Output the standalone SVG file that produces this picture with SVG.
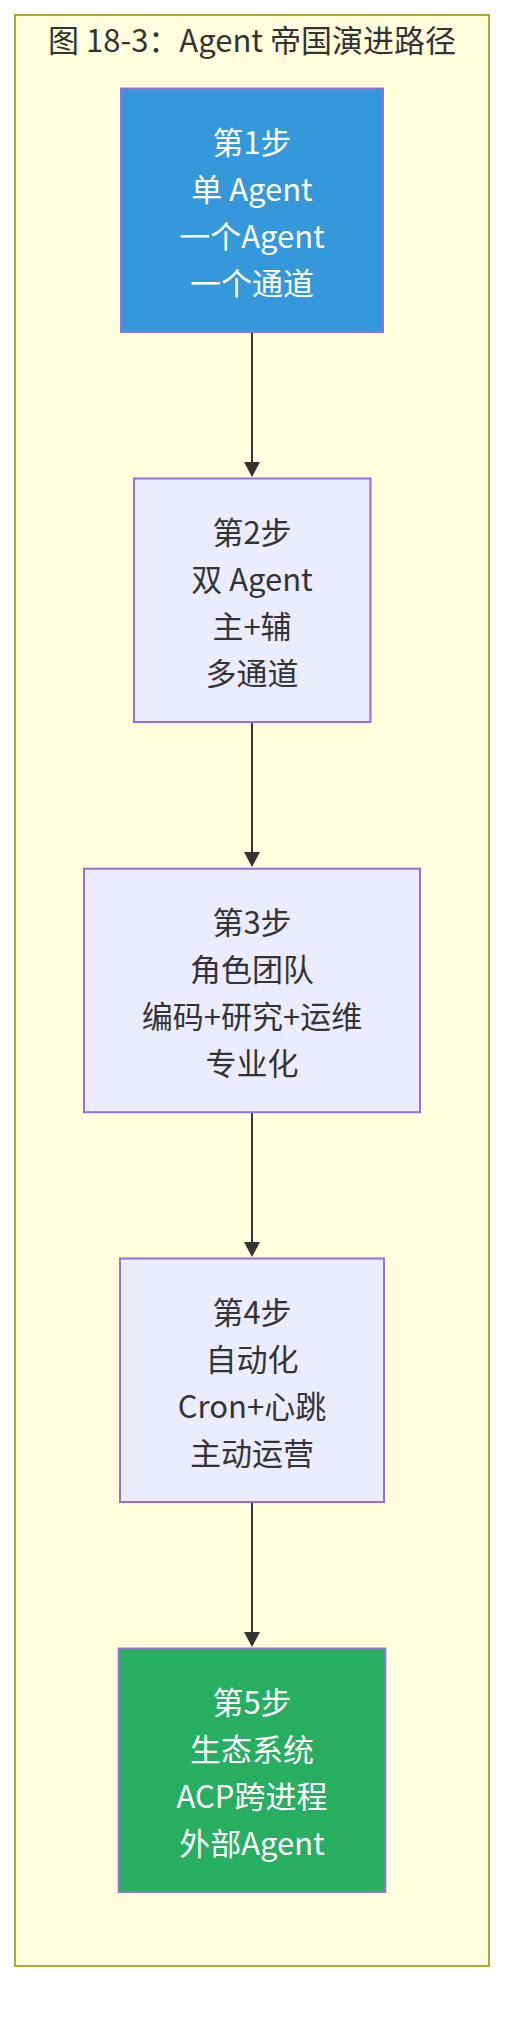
<svg xmlns="http://www.w3.org/2000/svg" width="520" height="2042" viewBox="0 0 520 2042">
<defs>
<style>
.container{fill:#ffffde;stroke:#aaaa33;stroke-width:2}
.title{font-family:"Noto Sans CJK SC","Noto Sans",sans-serif;font-size:31px;fill:#333333;text-anchor:middle}
.node{stroke:#9370DB;stroke-width:2}
.n-default{fill:#ECECFF}
.n-blue{fill:#3498db}
.n-green{fill:#27ae60}
.label{font-family:"Noto Sans CJK SC","Noto Sans",sans-serif;font-size:31px;text-anchor:middle}
.dark{fill:#333333}
.light{fill:#ffffff}
.edge{stroke:#333333;stroke-width:2;fill:none}
.head{fill:#333333}
</style>
</defs>
<rect width="520" height="2042" fill="#ffffff"/>
<g id="cluster">
<rect class="container" x="15" y="15" width="474" height="1951"/>
<text class="title" x="252" y="52">图 18-3：Agent 帝国演进路径</text>
</g>
<g id="connectors">
<line class="edge" x1="252" y1="333" x2="252" y2="464"/>
<polygon class="head" points="244,462 260,462 252,477"/>
<line class="edge" x1="252" y1="723" x2="252" y2="854"/>
<polygon class="head" points="244,852 260,852 252,867"/>
<line class="edge" x1="252" y1="1113" x2="252" y2="1244"/>
<polygon class="head" points="244,1242 260,1242 252,1257"/>
<line class="edge" x1="252" y1="1503" x2="252" y2="1634"/>
<polygon class="head" points="244,1632 260,1632 252,1647"/>
</g>
<g id="step1">
<rect class="node n-blue" x="121" y="88.5" width="262" height="243.5"/>
<text class="label light" x="252"><tspan x="252" y="153.5">第1步</tspan><tspan x="252" y="200.5">单 Agent</tspan><tspan x="252" y="247.5">一个Agent</tspan><tspan x="252" y="294.5">一个通道</tspan></text>
</g>
<g id="step2">
<rect class="node n-default" x="134" y="478.5" width="236.5" height="243.5"/>
<text class="label dark" x="252"><tspan x="252" y="543.5">第2步</tspan><tspan x="252" y="590.5">双 Agent</tspan><tspan x="252" y="637.5">主+辅</tspan><tspan x="252" y="684.5">多通道</tspan></text>
</g>
<g id="step3">
<rect class="node n-default" x="84" y="868.7" width="336" height="243.5"/>
<text class="label dark" x="252"><tspan x="252" y="933.5">第3步</tspan><tspan x="252" y="980.5">角色团队</tspan><tspan x="252" y="1027.5">编码+研究+运维</tspan><tspan x="252" y="1074.5">专业化</tspan></text>
</g>
<g id="step4">
<rect class="node n-default" x="120" y="1258.5" width="264" height="243.5"/>
<text class="label dark" x="252"><tspan x="252" y="1323.5">第4步</tspan><tspan x="252" y="1370.5">自动化</tspan><tspan x="252" y="1417.5">Cron+心跳</tspan><tspan x="252" y="1464.5">主动运营</tspan></text>
</g>
<g id="step5">
<rect class="node n-green" x="118.7" y="1648.5" width="266.6" height="243.5"/>
<text class="label light" x="252"><tspan x="252" y="1713.5">第5步</tspan><tspan x="252" y="1760.5">生态系统</tspan><tspan x="252" y="1807.5">ACP跨进程</tspan><tspan x="252" y="1854.5">外部Agent</tspan></text>
</g>
</svg>
